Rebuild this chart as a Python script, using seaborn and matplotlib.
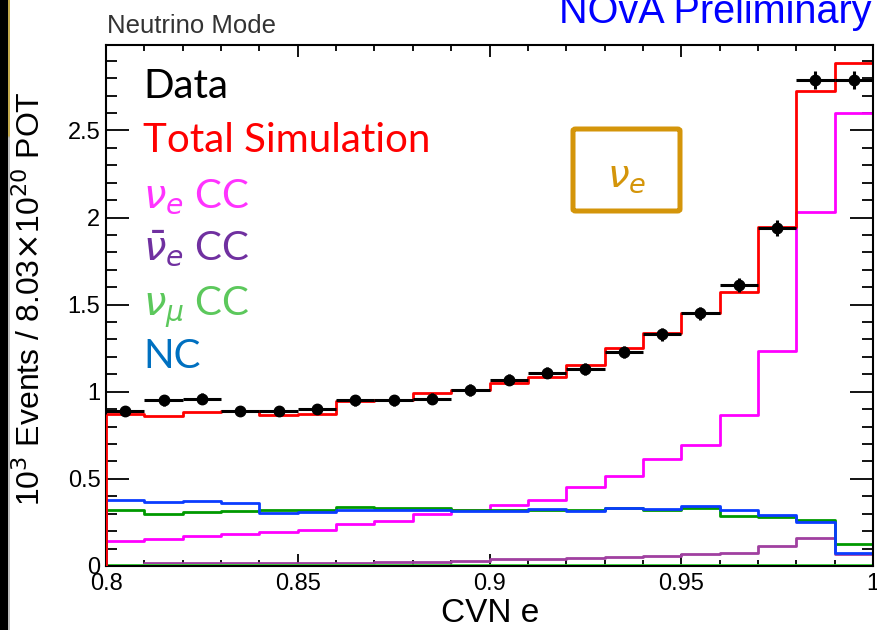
import numpy as np
import matplotlib
matplotlib.use("Agg")
import matplotlib.pyplot as plt
from matplotlib.patches import Rectangle, FancyBboxPatch
from matplotlib.lines import Line2D
import pandas as pd
import seaborn as sns

# ---------------- data ----------------
bin_edges = [0.80, 0.81, 0.82, 0.83, 0.84, 0.85, 0.86, 0.87, 0.88, 0.89, 0.90,
             0.91, 0.92, 0.93, 0.94, 0.95, 0.96, 0.97, 0.98, 0.99, 1.00]
data_vals = [0.89, 0.95, 0.96, 0.89, 0.89, 0.90, 0.95, 0.95, 0.96, 1.01,
             1.07, 1.11, 1.13, 1.23, 1.33, 1.45, 1.61, 1.94, 2.79, 2.79]
data_err = [0.030, 0.031, 0.031, 0.030, 0.030, 0.030, 0.031, 0.031, 0.031, 0.032,
            0.033, 0.033, 0.034, 0.035, 0.036, 0.038, 0.040, 0.044, 0.053, 0.053]
total_sim = [0.875, 0.860, 0.885, 0.890, 0.866, 0.875, 0.948, 0.951, 0.990, 1.010,
             1.050, 1.086, 1.155, 1.253, 1.337, 1.452, 1.575, 1.944, 2.726, 2.887]
nue_cc = [0.144, 0.157, 0.172, 0.186, 0.195, 0.207, 0.240, 0.259, 0.297, 0.320,
          0.350, 0.378, 0.456, 0.515, 0.613, 0.695, 0.868, 1.236, 2.030, 2.600]
nuebar_cc = [0.008, 0.015, 0.015, 0.015, 0.017, 0.017, 0.017, 0.025, 0.025, 0.029,
             0.038, 0.038, 0.048, 0.054, 0.059, 0.071, 0.077, 0.115, 0.159, 0.067]
numu_cc = [0.324, 0.301, 0.310, 0.314, 0.320, 0.324, 0.337, 0.330, 0.330, 0.324,
           0.320, 0.320, 0.320, 0.333, 0.320, 0.333, 0.287, 0.282, 0.263, 0.125]
nc = [0.379, 0.368, 0.374, 0.360, 0.306, 0.310, 0.320, 0.322, 0.320, 0.316,
      0.316, 0.326, 0.314, 0.331, 0.326, 0.343, 0.320, 0.293, 0.253, 0.076]
other_bkg = [0.003, 0.003, 0.003, 0.003, 0.003, 0.003, 0.003, 0.003, 0.003, 0.003,
             0.003, 0.003, 0.003, 0.003, 0.003, 0.003, 0.003, 0.003, 0.003, 0.003]

x_ticks = [0.8, 0.85, 0.9, 0.95, 1.0]
x_ticklabels = ["0.8", "0.85", "0.9", "0.95", "1"]
y_ticks = [0, 0.5, 1, 1.5, 2, 2.5]
y_ticklabels = ["0", "0.5", "1", "1.5", "2", "2.5"]

legend_labels = ["Data", "Total Simulation", r"$\nu_e$ CC", r"$\bar{\nu}_e$ CC",
                 r"$\nu_\mu$ CC", "NC"]
legend_colors = ["#000000", "#ff0000", "#ff33ff", "#7030a0", "#5cc85c", "#0070c0"]

# ---------------- style ----------------
sns.set_theme(style="ticks")
plt.rcParams["font.family"] = ["Liberation Sans", "DejaVu Sans"]
plt.rcParams["mathtext.fontset"] = "dejavusans"

W, H = 877, 630
fig = plt.figure(figsize=(W / 100, H / 100), dpi=100)
fig.patch.set_facecolor("white")
ax = fig.add_axes([106 / W, 1 - 566 / H, (873 - 106) / W, (566 - 45) / H])
ax.set_facecolor("white")

edges = np.array(bin_edges)
centers = (edges[:-1] + edges[1:]) / 2
half_w = np.diff(edges) / 2

lw = 2.0
series = [
    (nuebar_cc, "#a040a0"),
    (nue_cc, "#ff00ff"),
    (numu_cc, "#009900"),
    (nc, "#0a3cff"),
    (other_bkg, "#33dd33"),
    (total_sim, "#ff0000"),
]
for vals, col in series:
    df = pd.DataFrame({"x": centers, "w": vals})
    sns.histplot(data=df, x="x", weights="w", bins=list(bin_edges), element="step",
                 fill=False, color=col, linewidth=lw, ax=ax)
    ax.vlines(edges[0], 0, vals[0], color=col, linewidth=lw, zorder=3)

ax.errorbar(centers, data_vals, xerr=half_w, yerr=data_err, fmt="o", color="black",
            markersize=7.5, elinewidth=2.2, capsize=0, zorder=5)

ax.set_xlim(0.8, 1.0)
ax.set_ylim(0, 2.99)
ax.set_xticks(x_ticks)
ax.set_xticklabels(x_ticklabels)
ax.set_yticks(y_ticks)
ax.set_yticklabels(y_ticklabels)
ax.set_xticks(np.arange(0.80, 1.0001, 0.01), minor=True)
ax.set_yticks(np.arange(0, 2.95, 0.1), minor=True)
ax.set_xlabel("")
ax.set_ylabel("")

for s in ax.spines.values():
    s.set_linewidth(1.5)
    s.set_color("black")
    s.set_visible(True)

ax.tick_params(axis="both", which="both", direction="in", top=True, right=True,
               color="black", width=1.3, labelsize=17, labelcolor="black")
ax.tick_params(axis="y", which="major", length=16.5, pad=4)
ax.tick_params(axis="y", which="minor", length=8)
ax.tick_params(axis="x", which="major", length=8.6, pad=5)
ax.tick_params(axis="x", which="minor", length=4.3)

# axis titles
fig.text(490 / W, 1 - 622 / H, "CVN e", ha="center", va="baseline", fontsize=24,
         color="black")
fig.text(31 / W, 1 - 299 / H, r"10$^{3}$ Events / 8.03$\times$10$^{20}$ POT",
         rotation=90, ha="center", va="center", fontsize=23, color="black")

# headers
fig.text(107 / W, 1 - 33 / H, "Neutrino Mode", ha="left", va="baseline",
         fontsize=18.5, color="#333333")
fig.text(872 / W, 1 - 23 / H, "NOvA Preliminary", ha="right", va="baseline",
         fontsize=28.5, color="#0000ff")

# legend text
baselines = [98, 152, 207, 260, 315, 368]
for lab, col, yb in zip(legend_labels, legend_colors, baselines):
    fig.text(143 / W, 1 - yb / H, lab, ha="left", va="baseline", fontsize=29,
             color=col, family=["Lato", "DejaVu Sans"])

# nu_e box
box = FancyBboxPatch((573 / W, 1 - 211 / H), (680 - 573) / W, (211 - 129) / H,
                     boxstyle="round,pad=0,rounding_size=0.003",
                     transform=fig.transFigure, fill=False, edgecolor="#d4950a",
                     linewidth=3.6)
fig.add_artist(box)
fig.text(627 / W, 1 - 177 / H, r"$\nu_e$", ha="center", va="center", fontsize=28,
         color="#d4950a")

# left slide edge artifact
fig.add_artist(Rectangle((0, 0), 8 / W, 1, transform=fig.transFigure,
                         facecolor="black", edgecolor="none"))
fig.add_artist(Line2D([8.5 / W, 8.5 / W], [1, 1 - 137 / H], transform=fig.transFigure,
                      color="#b89a2a", linewidth=1.2))
fig.add_artist(Line2D([8.5 / W, 8.5 / W], [1 - 137 / H, 0], transform=fig.transFigure,
                      color="#b0b0b0", linewidth=1.2))

fig.savefig("out.png", dpi=100, facecolor="white")
